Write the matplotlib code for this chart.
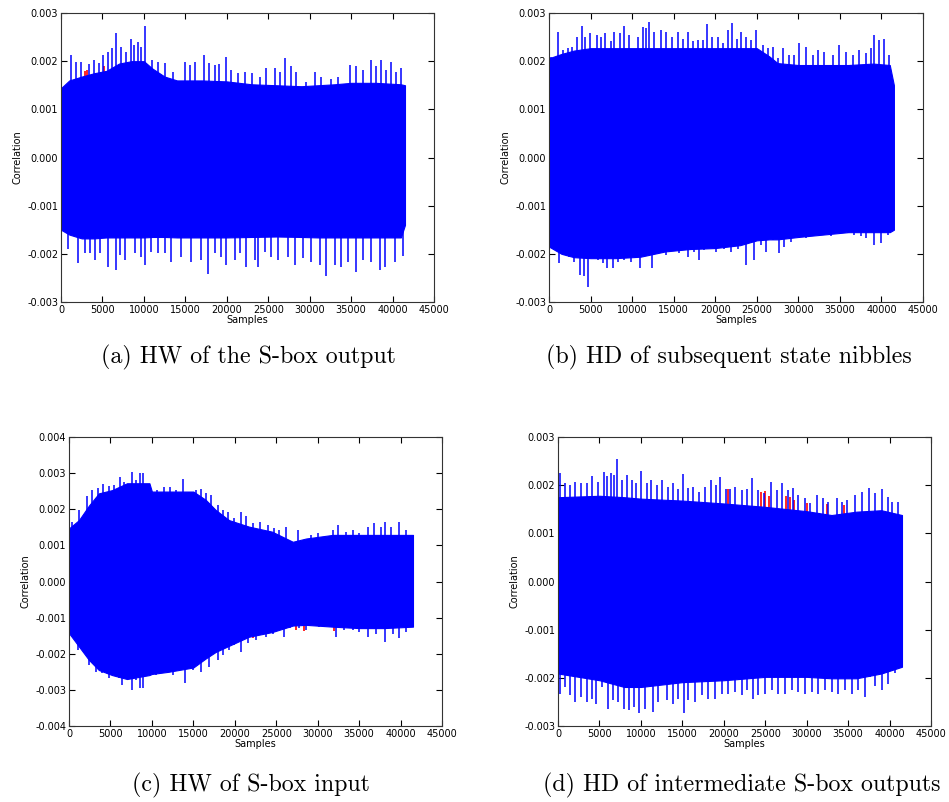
import numpy as np
import matplotlib
matplotlib.use('Agg')
from matplotlib import pyplot as plt

# ---- data (envelope + spike tips of the correlation traces) ----
# (a) HW of the S-box output
a_x = [0, 1000, 2500, 4000, 5500, 7000, 8500, 10000, 11000, 12500, 14000, 17000, 20000, 23000,
       26000, 29000, 31000, 33000, 35000, 38000, 41000, 41500]
a_hi = [0.00144, 0.00160, 0.00168, 0.00175, 0.00180, 0.00195, 0.00200, 0.00200, 0.00185, 0.00168,
        0.00160, 0.00160, 0.00158, 0.00152, 0.00150, 0.00148, 0.00150, 0.00152, 0.00155, 0.00155,
        0.00152, 0.00150]
a_lo = [-0.00150, -0.00160, -0.00168, -0.00168, -0.00166, -0.00166, -0.00166, -0.00166, -0.00165,
        -0.00165, -0.00166, -0.00166, -0.00166, -0.00165, -0.00164, -0.00165, -0.00166, -0.00166,
        -0.00166, -0.00166, -0.00166, -0.00140]
a_up_x = [1246, 1849, 2452, 3377, 3980, 4543, 5065, 5668, 6191, 6673, 7276, 7879, 8402, 8804, 9286,
          9688, 10170, 11015, 11698, 12582, 13507, 14914, 15517, 16200, 17246, 17809, 18532, 19055,
          19939, 20462, 21346, 22150, 23035, 23959, 24763, 25768, 26371, 26974, 27778, 28381, 29587,
          30672, 31396, 32602, 33406, 34813, 35617, 36421, 37426, 38029, 38632, 39235, 39838, 40441,
          41044]
a_up_y = [0.00213, 0.00199, 0.00199, 0.00194, 0.00202, 0.00196, 0.00213, 0.00220, 0.00227, 0.00258,
          0.00230, 0.00220, 0.00245, 0.00234, 0.00240, 0.00230, 0.00274, 0.00202, 0.00199, 0.00196,
          0.00178, 0.00199, 0.00192, 0.00199, 0.00213, 0.00196, 0.00192, 0.00194, 0.00209, 0.00182,
          0.00175, 0.00178, 0.00175, 0.00168, 0.00185, 0.00185, 0.00178, 0.00206, 0.00189, 0.00178,
          0.00157, 0.00178, 0.00168, 0.00164, 0.00168, 0.00192, 0.00189, 0.00182, 0.00202, 0.00189,
          0.00202, 0.00182, 0.00199, 0.00178, 0.00185]
a_dn_x = [844, 2050, 2854, 3457, 4060, 4663, 5668, 6673, 7075, 7678, 8884, 9688, 10170, 10894, 11698,
          12502, 13306, 14512, 15718, 16924, 17728, 18532, 19336, 19939, 20944, 21547, 22351, 23356,
          23758, 24562, 25366, 26170, 27376, 28180, 29185, 30190, 31195, 31999, 33004, 33808, 34612,
          35617, 36421, 37426, 38431, 39034, 40240, 41245]
a_dn_y = [-0.00189, -0.00220, -0.00199, -0.00199, -0.00213, -0.00199, -0.00227, -0.00234, -0.00202,
          -0.00213, -0.00199, -0.00206, -0.00223, -0.00196, -0.00199, -0.00199, -0.00216, -0.00206,
          -0.00216, -0.00213, -0.00242, -0.00199, -0.00206, -0.00223, -0.00213, -0.00199, -0.00227,
          -0.00213, -0.00227, -0.00196, -0.00206, -0.00213, -0.00206, -0.00223, -0.00209, -0.00216,
          -0.00223, -0.00247, -0.00223, -0.00227, -0.00216, -0.00237, -0.00213, -0.00216, -0.00234,
          -0.00227, -0.00216, -0.00205]
a_red_x = [2900, 3180, 5230]
a_red_y = [0.00180, 0.00181, 0.00189]

# (b) HD of subsequent state nibbles
b_x = [0, 1500, 3000, 5000, 8000, 11000, 14000, 17000, 20000, 23000, 25000, 26500, 27500, 30000,
       33000, 36000, 39000, 41000, 41500]
b_hi = [0.00206, 0.00215, 0.00222, 0.00227, 0.00227, 0.00227, 0.00227, 0.00227, 0.00227, 0.00227,
        0.00227, 0.00210, 0.00196, 0.00192, 0.00192, 0.00192, 0.00195, 0.00192, 0.00150]
b_lo = [-0.00185, -0.00200, -0.00207, -0.00209, -0.00209, -0.00206, -0.00195, -0.00190, -0.00188,
        -0.00182, -0.00172, -0.00170, -0.00170, -0.00165, -0.00160, -0.00155, -0.00155, -0.00155,
        -0.00150]
b_up_x = [241, 1043, 1644, 2246, 2767, 3328, 3970, 4371, 4972, 5734, 6256, 6777, 7459, 7860, 8541,
          9062, 9664, 10667, 11268, 11669, 12070, 12671, 13474, 14075, 14797, 15479, 16080, 16682,
          17283, 17885, 18486, 19007, 19569, 20291, 20892, 21494, 22015, 22576, 23098, 23699, 24301,
          24902, 25704, 26306, 26907, 27509, 28110, 28912, 29514, 30115, 30917, 31719, 32321, 33123,
          34125, 34927, 35729, 36531, 37333, 38135, 38737, 39137, 39739, 40340, 40942]
b_up_y = [0.00209, 0.00261, 0.00223, 0.00227, 0.00230, 0.00251, 0.00272, 0.00251, 0.00258, 0.00254,
          0.00251, 0.00258, 0.00241, 0.00261, 0.00258, 0.00272, 0.00254, 0.00251, 0.00270, 0.00268,
          0.00281, 0.00261, 0.00265, 0.00261, 0.00251, 0.00261, 0.00247, 0.00261, 0.00241, 0.00244,
          0.00244, 0.00277, 0.00251, 0.00251, 0.00237, 0.00265, 0.00280, 0.00247, 0.00261, 0.00251,
          0.00244, 0.00265, 0.00234, 0.00227, 0.00230, 0.00206, 0.00227, 0.00213, 0.00213, 0.00237,
          0.00230, 0.00213, 0.00223, 0.00220, 0.00213, 0.00234, 0.00220, 0.00213, 0.00223, 0.00216,
          0.00227, 0.00254, 0.00244, 0.00247, 0.00213]
b_dn_x = [441, 1243, 1845, 2446, 3048, 3770, 4170, 4732, 5253, 5854, 6456, 6977, 7659, 8260, 9062,
          9865, 10386, 10988, 11669, 12351, 13273, 14075, 14877, 15680, 16762, 17484, 18085, 18687,
          19288, 20090, 21093, 21895, 22697, 23699, 24701, 25504, 26105, 26907, 27629, 28311, 29113,
          30115, 30917, 31719, 32922, 33925, 34927, 35930, 36732, 37534, 38135, 39137, 39940, 40742]
b_dn_y = [-0.00189, -0.00220, -0.00202, -0.00206, -0.00216, -0.00244, -0.00247, -0.00268, -0.00202,
          -0.00213, -0.00220, -0.00230, -0.00230, -0.00216, -0.00213, -0.00216, -0.00196, -0.00230,
          -0.00202, -0.00230, -0.00196, -0.00202, -0.00189, -0.00199, -0.00206, -0.00196, -0.00213,
          -0.00192, -0.00185, -0.00196, -0.00189, -0.00196, -0.00189, -0.00223, -0.00213, -0.00182,
          -0.00196, -0.00171, -0.00199, -0.00185, -0.00175, -0.00168, -0.00168, -0.00161, -0.00157,
          -0.00164, -0.00154, -0.00157, -0.00161, -0.00164, -0.00168, -0.00182, -0.00178, -0.00161]

# (c) HW of S-box input
c_x = [0, 1200, 2400, 3600, 5200, 7000, 9700, 10000, 12000, 15000, 16500, 17700, 19300, 21700,
       24500, 27000, 28600, 31800, 35000, 38000, 41500]
c_hi = [0.00147, 0.00170, 0.00210, 0.00244, 0.00253, 0.00272, 0.00272, 0.00249, 0.00249, 0.00249,
        0.00226, 0.00198, 0.00170, 0.00152, 0.00138, 0.00110, 0.00119, 0.00129, 0.00129, 0.00129,
        0.00129]
c_lo = [-0.00143, -0.00180, -0.00217, -0.00245, -0.00259, -0.00270, -0.00259, -0.00256, -0.00250,
        -0.00238, -0.00213, -0.00195, -0.00178, -0.00153, -0.00140, -0.00122, -0.00120, -0.00125,
        -0.00129, -0.00129, -0.00125]
c_up_x = [362, 1246, 2171, 2774, 3457, 4060, 4784, 5387, 6191, 6673, 7196, 7598, 8080, 8563, 8965,
          9688, 10572, 11497, 12181, 12904, 13788, 14512, 15316, 15919, 16522, 17125, 17929, 18532,
          19135, 19939, 20743, 21346, 22150, 23075, 23959, 24763, 25366, 26170, 27577, 29185, 29989,
          31798, 32401, 33406, 34210, 35014, 36019, 36823, 37627, 38150, 38833, 39838, 40642]
c_up_y = [0.00166, 0.00198, 0.00237, 0.00253, 0.00258, 0.00270, 0.00264, 0.00267, 0.00290, 0.00276,
          0.00253, 0.00304, 0.00281, 0.00299, 0.00299, 0.00262, 0.00253, 0.00262, 0.00262, 0.00253,
          0.00283, 0.00249, 0.00253, 0.00255, 0.00244, 0.00239, 0.00212, 0.00198, 0.00193, 0.00175,
          0.00193, 0.00180, 0.00161, 0.00166, 0.00156, 0.00147, 0.00143, 0.00152, 0.00143, 0.00129,
          0.00133, 0.00143, 0.00157, 0.00138, 0.00143, 0.00133, 0.00152, 0.00161, 0.00152, 0.00166,
          0.00152, 0.00166, 0.00143]
c_dn_x = [1045, 2372, 3256, 3980, 4864, 6070, 6392, 7075, 7598, 8080, 8563, 8965, 9688, 10492,
          11296, 12502, 13105, 14030, 14914, 15919, 16924, 17929, 18532, 19336, 19939, 20743, 21547,
          22552, 23758, 24562, 25969, 26653, 27778, 28582, 30190, 31115, 32200, 33205, 34210, 35014,
          36019, 37024, 38150, 39034, 39838, 40642]
c_dn_y = [-0.00190, -0.00231, -0.00250, -0.00254, -0.00268, -0.00268, -0.00287, -0.00250, -0.00300,
          -0.00273, -0.00296, -0.00296, -0.00259, -0.00259, -0.00254, -0.00259, -0.00245, -0.00282,
          -0.00245, -0.00250, -0.00236, -0.00217, -0.00203, -0.00190, -0.00176, -0.00194, -0.00171,
          -0.00162, -0.00153, -0.00144, -0.00153, -0.00130, -0.00130, -0.00134, -0.00125, -0.00120,
          -0.00153, -0.00134, -0.00134, -0.00139, -0.00153, -0.00144, -0.00167, -0.00144, -0.00157,
          -0.00139]
c_red_x = [19336, 22150, 25969, 27376, 28381, 30391, 31999, 33004]
c_red_y = [-0.00162, -0.00157, -0.00125, -0.00135, -0.00138, -0.00112, -0.00136, -0.00130]

# (d) HD of intermediate S-box outputs
d_x = [0, 5000, 8000, 10000, 15000, 20000, 25000, 30000, 33000, 36000, 39000, 41500]
d_hi = [0.00175, 0.00178, 0.00175, 0.00172, 0.00168, 0.00162, 0.00155, 0.00146, 0.00138, 0.00145,
        0.00148, 0.00138]
d_lo = [-0.00191, -0.00205, -0.00219, -0.00219, -0.00209, -0.00205, -0.00198, -0.00198, -0.00201,
        -0.00201, -0.00191, -0.00177]
d_up_x = [281, 844, 1448, 2051, 2774, 3458, 4142, 4865, 5509, 5951, 6393, 6795, 7117, 7680, 8283,
          8886, 9449, 10012, 10696, 11178, 11982, 12505, 13229, 13912, 14516, 15119, 15722, 16325,
          17008, 17732, 18456, 19019, 19582, 20225, 20748, 21351, 22155, 22758, 23361, 24166, 24889,
          25694, 26377, 26980, 27784, 28388, 28991, 29795, 30398, 31202, 32006, 32610, 33615, 34218,
          34821, 35826, 36630, 37515, 38239, 39043, 39767, 40250, 41054]
d_up_y = [0.00226, 0.00204, 0.00200, 0.00207, 0.00205, 0.00204, 0.00218, 0.00207, 0.00228, 0.00218,
          0.00226, 0.00221, 0.00254, 0.00211, 0.00221, 0.00211, 0.00204, 0.00229, 0.00204, 0.00211,
          0.00200, 0.00211, 0.00197, 0.00204, 0.00193, 0.00223, 0.00195, 0.00197, 0.00186, 0.00197,
          0.00211, 0.00200, 0.00216, 0.00193, 0.00193, 0.00197, 0.00190, 0.00193, 0.00214, 0.00190,
          0.00183, 0.00207, 0.00190, 0.00204, 0.00190, 0.00195, 0.00180, 0.00173, 0.00162, 0.00180,
          0.00173, 0.00166, 0.00173, 0.00166, 0.00169, 0.00180, 0.00186, 0.00195, 0.00183, 0.00193,
          0.00176, 0.00166, 0.00166]
d_dn_x = [281, 844, 1448, 2051, 2774, 3458, 4142, 4544, 5348, 6072, 6675, 7278, 8002, 8565, 9208,
          9811, 10495, 11500, 12103, 13108, 13912, 14516, 15199, 15722, 16526, 17330, 18134, 18939,
          19743, 20547, 21351, 22155, 22758, 23482, 24166, 24970, 25774, 26578, 27382, 28187, 28991,
          29795, 30599, 31403, 32207, 33012, 33816, 34620, 35424, 36228, 37033, 37636, 38239, 39043,
          39847, 40651]
d_dn_y = [-0.00233, -0.00219, -0.00236, -0.00250, -0.00240, -0.00250, -0.00243, -0.00254, -0.00219,
          -0.00264, -0.00247, -0.00250, -0.00264, -0.00267, -0.00261, -0.00273, -0.00264, -0.00271,
          -0.00250, -0.00247, -0.00254, -0.00243, -0.00272, -0.00247, -0.00250, -0.00236, -0.00243,
          -0.00243, -0.00233, -0.00233, -0.00229, -0.00236, -0.00226, -0.00243, -0.00236, -0.00233,
          -0.00226, -0.00233, -0.00233, -0.00226, -0.00229, -0.00233, -0.00229, -0.00233, -0.00226,
          -0.00229, -0.00233, -0.00226, -0.00233, -0.00226, -0.00240, -0.00198, -0.00216, -0.00226,
          -0.00212, -0.00191]
d_red_x = [20500, 24500, 25000, 25500, 27500, 28000, 28500, 30000, 32500, 34500]
d_red_y = [0.00193, 0.00185, 0.00188, 0.00178, 0.00178, 0.00175, 0.00170, 0.00162, 0.00160, 0.00158]

captions = ['(a) HW of the S-box output', '(b) HD of subsequent state nibbles',
            '(c) HW of S-box input', '(d) HD of intermediate S-box outputs']

# ---- figure ----
W, H = 949, 802
fig = plt.figure(figsize=(W / 100, H / 100), dpi=100)

# axes boxes in pixels: left, right, top, bottom
boxes = [(61, 434, 13, 302), (549, 923, 13, 302), (69, 442, 437, 726), (558, 931, 437, 726)]
ylims = [0.003, 0.003, 0.004, 0.003]
panels = [
    (a_x, a_hi, a_lo, a_up_x, a_up_y, a_dn_x, a_dn_y, a_red_x, a_red_y),
    (b_x, b_hi, b_lo, b_up_x, b_up_y, b_dn_x, b_dn_y, [], []),
    (c_x, c_hi, c_lo, c_up_x, c_up_y, c_dn_x, c_dn_y, c_red_x, c_red_y),
    (d_x, d_hi, d_lo, d_up_x, d_up_y, d_dn_x, d_dn_y, d_red_x, d_red_y),
]

for box, lim, p in zip(boxes, ylims, panels):
    l, r, t, b = box
    ax = fig.add_axes([l / W, 1 - b / H, (r - l) / W, (b - t) / H])
    x, hi, lo, ux, uy, dx, dy, rx, ry = p
    # red trace (correct key) sits underneath the blue ones
    if rx:
        ax.vlines(rx, 0, ry, color='red', lw=1.2, zorder=1)
    ax.fill_between(x, lo, hi, color='blue', lw=0.8, edgecolor='blue', zorder=2)
    ax.vlines(ux, 0, uy, color='blue', lw=1.1, zorder=3)
    ax.vlines(dx, 0, dy, color='blue', lw=1.1, zorder=3)

    ax.set_xlim(0, 45000)
    ax.set_ylim(-lim, lim)
    ax.set_xticks(np.arange(0, 45001, 5000))
    ax.set_yticks(np.arange(-lim, lim + 1e-9, 0.001))
    ax.yaxis.set_major_formatter(matplotlib.ticker.FormatStrFormatter('%.3f'))
    ax.tick_params(direction='in', top=True, right=True, labelsize=7, length=4, pad=2)
    ax.set_xlabel('Samples', fontsize=7, labelpad=0)
    ax.set_ylabel('Correlation', fontsize=7, labelpad=3)
    for s in ax.spines.values():
        s.set_linewidth(0.8)
        s.set_color('#333333')

# captions (LaTeX style)
cap_pos = [(248, 357), (729, 357), (251, 785), (742, 785)]
for (cx, cy), txt in zip(cap_pos, captions):
    fig.text(cx / W, 1 - cy / H, txt, ha='center', va='center', fontsize=17.2, family='cmr10')

fig.savefig('out.png', dpi=100)
